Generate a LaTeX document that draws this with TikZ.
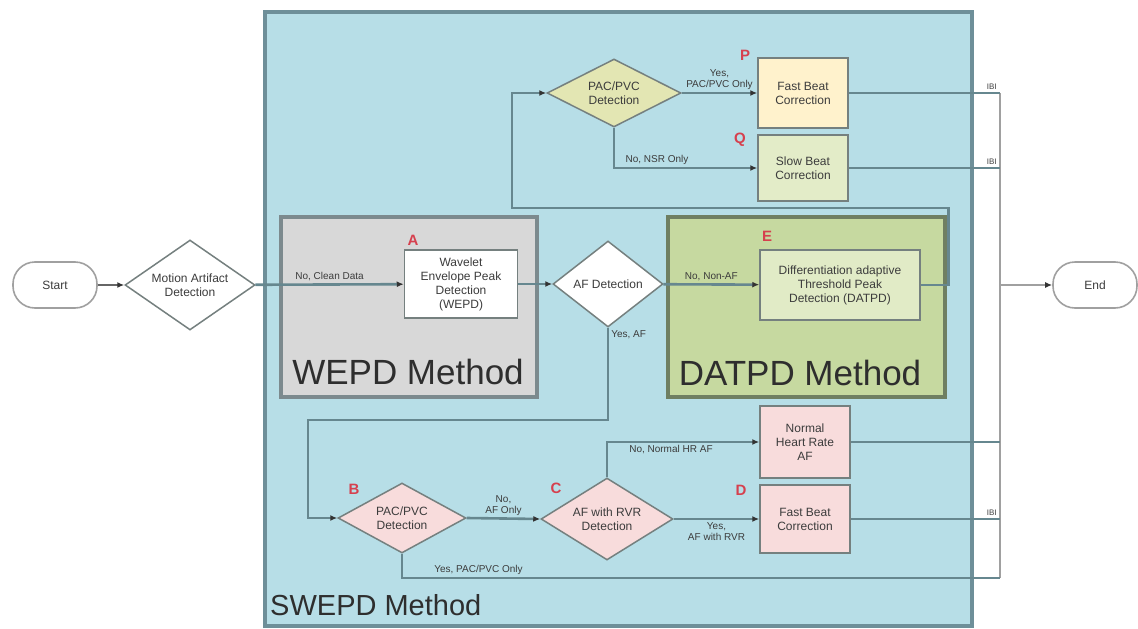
\documentclass[tikz,border=0pt]{standalone}
\usepackage{fontspec}
\setmainfont{Liberation Sans}
\usetikzlibrary{shapes.geometric,arrows.meta}

\definecolor{swbg}{HTML}{B7DEE7}
\definecolor{swline}{HTML}{6E8F99}
\definecolor{wgray}{HTML}{D8D8D8}
\definecolor{wline}{HTML}{7C8A8E}
\definecolor{dgreen}{HTML}{C6D9A0}
\definecolor{dline}{HTML}{6F7F62}
\definecolor{efill}{HTML}{E1EBC6}
\definecolor{topfill}{HTML}{E3E6B3}
\definecolor{pfill}{HTML}{FFF2CC}
\definecolor{qfill}{HTML}{E3ECC8}
\definecolor{rfill}{HTML}{F8DCDC}
\definecolor{boxline}{HTML}{75807F}
\definecolor{flowc}{HTML}{66878F}
\definecolor{busc}{HTML}{A0A0A0}
\definecolor{txt}{HTML}{3C3C3C}
\definecolor{tagred}{HTML}{D6404E}

\begin{document}
\begin{tikzpicture}[x=1pt, y=-1pt,
  box/.style = {draw=boxline, line width=1.5pt, align=center, inner sep=2pt, text=txt,
                font=\fontsize{12}{14}\selectfont},
  dec/.style = {draw=boxline, diamond, line width=1.5pt, align=center, inner sep=0pt, text=txt,
                font=\fontsize{12}{14}\selectfont},
  term/.style = {draw=busc, fill=white, line width=1.6pt, rounded corners=22pt, text=txt,
                 minimum width=84pt, minimum height=46pt, font=\fontsize{12}{14}\selectfont},
  flow/.style = {draw=flowc, line width=2.6pt, -{Latex[length=7pt,width=6pt,color=black!80]}},
  feed/.style = {draw=flowc, line width=2.6pt},
  lab/.style = {font=\fontsize{10}{11}\selectfont, text=txt, align=center, inner sep=2pt},
  tag/.style = {font=\bfseries\fontsize{15}{15}\selectfont, text=tagred},
  big/.style = {font=\fontsize{35}{35}\selectfont, inner sep=0pt, text=black!82}]
\useasboundingbox (0,0) rectangle (1138,629);

% SWEPD panel
\filldraw[fill=swbg, draw=swline, line width=4pt] (265,12) rectangle (972,626);
\node[font=\fontsize{29}{29}\selectfont, text=black!82, anchor=base west, inner sep=0pt] (swepd) at (270,615) {SWEPD Method};

% WEPD and DATPD panels
\filldraw[fill=wgray, draw=wline, line width=3.5pt] (281,217) rectangle (537,397);
\node[big] (wepd) at (408,372) {WEPD Method};
\filldraw[fill=dgreen, draw=dline, line width=3.5pt] (668,217) rectangle (945,397);
\node[big] (datpd) at (800,373) {DATPD Method};

% nodes
\node[term] (start) at (55,285) {Start};
\node[dec, fill=white, aspect=1.45, minimum width=130pt, minimum height=90pt] (ma) at (190,285) {Motion Artifact\\Detection};
\node[box, fill=white, minimum width=113pt, minimum height=68pt] (A) at (461,284) {Wavelet\\Envelope Peak\\Detection\\(WEPD)};
\node[dec, fill=white, aspect=1.3, minimum width=110pt, minimum height=86pt] (af) at (608,284) {AF Detection};
\node[box, fill=efill, minimum width=160pt, minimum height=70pt] (E) at (840,285) {Differentiation adaptive\\Threshold Peak\\Detection (DATPD)};

\node[dec, fill=topfill, aspect=2, minimum width=134pt, minimum height=68pt] (pv1) at (614,93) {PAC/PVC\\Detection};
\node[box, fill=pfill, minimum width=90pt, minimum height=70pt] (P) at (803,93) {Fast Beat\\Correction};
\node[box, fill=qfill, minimum width=90pt, minimum height=66pt] (Q) at (803,168) {Slow Beat\\Correction};

\node[dec, fill=rfill, aspect=1.8, minimum width=128pt, minimum height=70pt] (pv2) at (402,518) {PAC/PVC\\Detection};
\node[dec, fill=rfill, aspect=1.6, minimum width=132pt, minimum height=82pt] (rvr) at (607,519) {AF with RVR\\Detection};
\node[box, fill=rfill, minimum width=90pt, minimum height=72pt] (nhr) at (805,442) {Normal\\Heart Rate\\AF};
\node[box, fill=rfill, minimum width=90pt, minimum height=68pt] (D) at (805,519) {Fast Beat\\Correction};

\node[term] (end) at (1095,285) {End};

% letters
\node[tag] (tA) at (413,240) {A};
\node[tag] (tE) at (767,236) {E};
\node[tag] (tP) at (745,55) {P};
\node[tag] (tQ) at (740,140) {Q};
\node[tag] (tB) at (354,489) {B};
\node[tag] (tC) at (556,488) {C};
\node[tag] (tD) at (741,490) {D};

% output bus
\coordinate (bustop) at (1000,93);
\coordinate (busbot) at (1000,578);
\draw[busc, line width=2pt] (bustop) -- (busbot);

% connectors
\draw[flow, draw=black!60] (start) -- (ma);
\draw[flow] (ma) -- node[lab, above] {No, Clean Data} (A);
\draw[flow] (A) -- (af);
\draw[flow] (af) -- node[lab, above] {No, Non-AF} (E);
\draw[flow] (E.east) -- ++(28,0) |- (512,208) |- (pv1.west);
\draw[flow] (pv1.east) -- node[lab, above] {Yes,\\PAC/PVC Only} (P.west);
\draw[flow] (pv1.south) |- node[lab, above, pos=0.65] {No, NSR Only} (Q.west);
\draw[flow] (af.south) node[lab, below right] {Yes, AF} |- (308,420) |- (pv2.west);
\draw[flow] (pv2.east) -- node[lab, above] {No,\\AF Only} (rvr.west);
\draw[flow] (rvr.north) |- node[lab, below, pos=0.71] {No, Normal HR AF} (nhr.west);
\draw[flow] (rvr.east) -- node[lab, below] {Yes,\\AF with RVR} (D.west);
\draw[feed] (pv2.south) |- node[lab, above, pos=0.564] {Yes, PAC/PVC Only} (busbot);

\draw[feed] (P.east) -- (P.east -| bustop) node[lab, above left, font=\fontsize{8}{8}\selectfont] {IBI};
\draw[feed] (Q.east) -- (Q.east -| bustop) node[lab, above left, font=\fontsize{8}{8}\selectfont] {IBI};
\draw[feed] (nhr.east) -- (nhr.east -| bustop);
\draw[feed] (D.east) -- (D.east -| bustop) node[lab, above left, font=\fontsize{8}{8}\selectfont] {IBI};
\draw[flow, draw=busc] (end.west -| bustop) -- (end.west);
\end{tikzpicture}
\end{document}
